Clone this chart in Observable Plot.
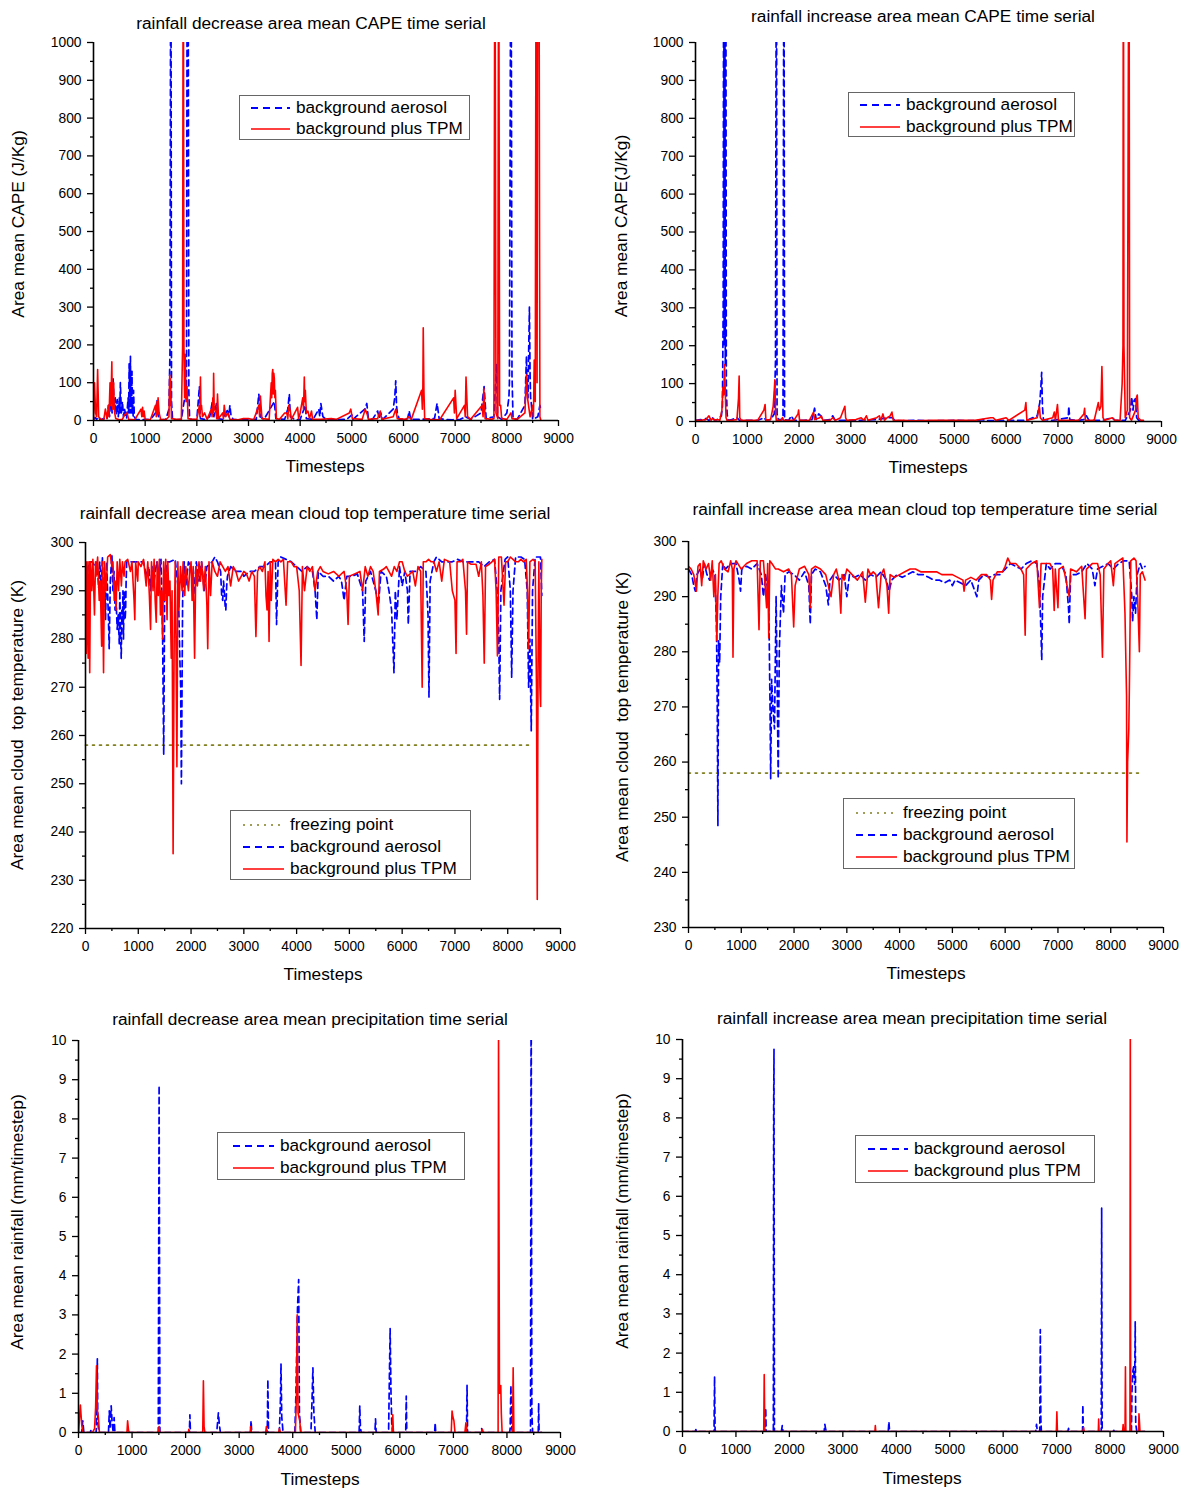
<!DOCTYPE html>
<html><head><meta charset="utf-8">
<script src="https://cdn.jsdelivr.net/npm/d3@7"></script>
<script src="https://cdn.jsdelivr.net/npm/@observablehq/plot@0.6"></script>
<style>
body{margin:0;background:#fff;font-family:"Liberation Sans",Arial,sans-serif;}
#root{position:relative;width:1181px;height:1490px;overflow:hidden;background:#fff;}
.t{position:absolute;white-space:pre;color:#000;line-height:1;}
.legend{position:absolute;border:1px solid #666;background:#fff;box-sizing:border-box;}
svg{overflow:visible;}
</style></head><body><div id="root"></div><script>
// ---------- DATA ----------
const xTicks = [0,1000,2000,3000,4000,5000,6000,7000,8000,9000];
const capeTicks = [0,100,200,300,400,500,600,700,800,900,1000];
const cttDecTicks = [220,230,240,250,260,270,280,290,300];
const cttIncTicks = [230,240,250,260,270,280,290,300];
const rainTicks = [0,1,2,3,4,5,6,7,8,9,10];
const freezingPoint = 258;
const seriesNames = ["freezing point","background aerosol","background plus TPM"];

const capeDecAerosol = [[0,2],[30,8],[60,3],[100,10],[130,2],[200,5],[260,3],[290,40],[310,10],[340,70],[360,20],[380,110],[400,30],[420,60],[440,15],[460,55],[480,10],[500,60],[510,20],[520,100],[540,20],[560,50],[580,10],[600,30],[640,5],[670,60],[680,20],[690,150],[700,80],[708,20],[715,170],[722,40],[730,60],[738,20],[745,130],[752,30],[760,40],[768,10],[775,80],[790,10],[820,3],[900,2],[1000,3],[1100,2],[1200,20],[1230,55],[1260,5],[1300,2],[1400,3],[1460,30],[1480,180],[1497,1500],[1510,50],[1530,3],[1600,2],[1700,3],[1800,90],[1815,1500],[1830,1500],[1845,80],[1860,5],[1900,3],[2000,2],[2050,90],[2070,5],[2150,3],[2250,10],[2300,50],[2330,10],[2380,45],[2400,5],[2500,3],[2600,30],[2620,10],[2640,40],[2660,15],[2680,10],[2700,3],[2800,2],[3000,2],[3150,3],[3200,70],[3230,10],[3300,3],[3500,50],[3530,5],[3700,3],[3760,30],[3790,70],[3810,10],[3900,2],[4000,3],[4100,40],[4120,5],[4250,3],[4360,30],[4380,10],[4400,45],[4440,10],[4500,3],[4700,2],[4900,3],[5000,15],[5020,3],[5250,30],[5290,45],[5320,5],[5400,3],[5500,25],[5530,5],[5560,20],[5600,3],[5800,30],[5830,60],[5850,105],[5865,40],[5880,20],[5920,3],[6080,5],[6110,25],[6140,3],[6300,3],[6600,5],[6650,45],[6690,5],[6800,3],[6950,2],[7100,3],[7200,10],[7300,3],[7500,20],[7560,90],[7600,5],[7750,10],[7800,150],[7820,10],[7900,3],[8000,20],[8040,60],[8050,100],[8080,1500],[8100,120],[8120,5],[8200,3],[8350,40],[8380,170],[8390,80],[8400,100],[8410,60],[8420,160],[8437,300],[8450,120],[8460,60],[8470,50],[8500,3],[8600,10],[8640,40],[8660,30]];
const capeDecTPM = [[0,0],[20,100],[40,20],[60,10],[80,135],[100,10],[150,2],[200,3],[230,30],[260,5],[290,40],[300,10],[320,100],[330,40],[340,60],[355,155],[362,60],[370,30],[380,80],[390,100],[400,40],[410,20],[430,5],[500,2],[560,3],[600,15],[650,20],[680,3],[800,2],[920,30],[935,10],[950,35],[965,10],[980,25],[1000,3],[1100,2],[1200,40],[1215,10],[1230,50],[1240,15],[1250,60],[1270,20],[1300,3],[1400,2],[1460,10],[1475,120],[1482,40],[1490,110],[1510,5],[1600,3],[1700,3],[1725,200],[1737,1500],[1750,200],[1765,60],[1775,175],[1790,50],[1810,90],[1830,5],[1900,3],[2000,3],[2050,40],[2060,10],[2070,115],[2080,30],[2090,40],[2110,10],[2150,20],[2200,3],[2280,30],[2295,10],[2310,60],[2318,20],[2325,125],[2335,40],[2345,30],[2370,20],[2385,5],[2400,70],[2420,5],[2500,20],[2515,5],[2530,40],[2560,10],[2600,20],[2640,3],[2800,2],[2900,5],[3000,5],[3100,2],[3200,40],[3215,10],[3230,65],[3260,5],[3400,3],[3440,100],[3450,60],[3460,125],[3470,135],[3480,70],[3490,125],[3500,110],[3510,60],[3520,80],[3540,5],[3600,3],[3700,20],[3740,20],[3760,5],[3780,40],[3810,25],[3830,3],[3950,35],[3970,5],[4000,20],[4050,60],[4065,30],[4080,115],[4090,50],[4100,80],[4120,20],[4150,25],[4180,5],[4220,25],[4240,3],[4400,3],[4600,5],[4700,3],[4950,20],[4980,30],[5010,5],[5200,3],[5260,30],[5300,15],[5320,3],[5500,5],[5550,25],[5580,3],[5800,10],[5850,30],[5880,5],[6050,3],[6100,10],[6150,3],[6350,80],[6365,30],[6375,90],[6382,245],[6395,80],[6410,5],[6500,3],[6700,2],[6970,60],[6985,20],[7000,80],[7030,5],[7180,40],[7195,10],[7210,115],[7240,10],[7300,3],[7520,40],[7540,10],[7555,85],[7580,5],[7700,3],[7750,5],[7769,1500],[7790,20],[7825,5],[7842,1500],[7860,40],[7880,40],[7900,5],[8000,3],[8080,20],[8100,5],[8200,3],[8350,20],[8380,120],[8400,60],[8450,10],[8500,40],[8515,10],[8530,160],[8550,50],[8568,1500],[8585,100],[8600,1500],[8620,1500],[8640,10],[8660,0]];

const capeIncAerosol = [[0,3],[100,5],[160,2],[200,8],[260,3],[330,10],[370,3],[420,5],[460,10],[500,15],[520,40],[535,300],[545,1500],[555,200],[565,1500],[575,150],[585,1500],[595,100],[610,20],[630,3],[700,5],[800,10],[850,3],[1000,3],[1200,3],[1330,10],[1360,3],[1450,5],[1520,20],[1545,160],[1563,1500],[1575,20],[1600,5],[1690,5],[1708,1500],[1720,5],[1800,3],[1850,15],[1900,3],[2100,3],[2250,5],[2300,35],[2330,5],[2380,20],[2420,15],[2460,3],[2600,5],[2650,15],[2700,3],[2900,3],[3100,3],[3500,5],[3700,10],[3800,10],[3850,3],[4000,2],[4200,3],[4600,2],[5000,3],[5400,2],[5550,5],[5600,2],[6000,3],[6400,3],[6600,15],[6650,50],[6670,90],[6686,130],[6700,40],[6720,5],[6900,3],[7200,10],[7209,40],[7230,5],[7400,3],[7500,5],[7550,15],[7600,3],[7850,3],[8050,10],[8100,3],[8300,3],[8400,30],[8423,65],[8450,30],[8470,55],[8495,60],[8520,10],[8560,3],[8650,2]];
const capeIncTPM = [[0,3],[100,3],[200,5],[260,15],[300,3],[330,8],[380,3],[420,5],[470,3],[510,30],[530,90],[545,70],[560,150],[575,80],[590,10],[610,3],[700,3],[800,5],[830,60],[843,120],[855,10],[880,3],[1000,3],[1200,3],[1320,30],[1344,45],[1360,3],[1450,5],[1500,40],[1520,80],[1533,110],[1545,30],[1560,3],[1650,3],[1680,10],[1700,3],[1900,3],[1980,20],[1991,30],[2010,3],[2200,3],[2280,25],[2300,5],[2400,10],[2430,15],[2460,3],[2600,3],[2650,10],[2700,3],[2800,10],[2870,35],[2885,40],[2900,10],[2920,3],[3100,5],[3200,10],[3250,3],[3300,15],[3330,3],[3500,10],[3550,15],[3580,3],[3620,20],[3650,3],[3700,10],[3760,15],[3794,25],[3820,3],[4000,3],[4200,2],[4600,3],[5000,3],[5400,3],[5700,10],[5750,10],[5800,3],[6000,10],[6050,3],[6360,30],[6381,50],[6400,3],[6600,10],[6640,40],[6660,10],[6700,3],[6900,10],[6930,25],[6950,3],[6991,45],[7010,3],[7200,3],[7400,3],[7500,20],[7515,35],[7530,3],[7700,3],[7780,50],[7800,30],[7830,40],[7849,145],[7870,10],[7900,3],[8050,10],[8100,3],[8200,3],[8240,100],[8256,200],[8263,1500],[8275,200],[8300,10],[8340,30],[8372,1500],[8385,10],[8420,3],[8500,30],[8520,65],[8532,70],[8550,10],[8600,3],[8650,3]];

const cttDecAerosol = [[0,296],[40,294],[80,296],[130,296],[180,295],[220,296],[250,290.5],[270,296],[300,290],[320,297],[340,286],[360,292],[380,284],[400,296],[430,286],[449,278],[470,292],[500,297.5],[520,290],[540,294],[560,286],[580,288],[600,282],[620,285],[640,279],[650,290],[665,281],[677,276],[690,286],[700,283],[710,290],[720,280],[730,288],[740,290],[750,284],[760,286],[770,292],[780,296],[820,296],[900,296],[1000,296],[1100,296],[1150,293],[1200,295],[1233,290],[1260,295],[1300,292],[1350,296],[1400,293],[1430,296.5],[1460,282],[1482,256],[1500,290],[1550,296],[1600,296],[1700,296.5],[1760,290],[1790,275],[1803,270],[1817,250],[1840,288],[1870,296],[1900,291],[1950,296],[2000,295],[2050,289],[2100,296],[2150,292],[2200,296],[2250,290],[2300,295],[2400,296],[2450,297],[2500,296],[2560,294],[2580,289],[2600,288],[2615,292],[2630,290],[2645,287],[2659,286],[2675,291],[2690,293],[2750,295],[2850,294],[2950,294],[3000,293],[3100,294],[3200,294],[3300,295],[3400,295],[3500,296],[3600,296],[3620,283],[3650,296],[3700,297],[3800,296.5],[3900,296],[4000,295],[4100,294],[4200,295],[4300,294],[4350,290],[4383,284],[4410,294],[4500,293],[4600,293],[4700,292],[4800,293],[4850,292],[4900,288],[4950,293],[5050,293],[5150,293.5],[5250,290],[5281,279.5],[5310,292],[5400,294],[5500,290],[5550,287],[5600,294],[5700,293],[5750,290],[5800,286],[5820,280],[5845,273],[5870,290],[5900,284],[5950,295],[6000,291],[6050,294],[6100,290],[6116,283],[6150,294],[6250,294],[6350,295],[6450,294],[6490,285],[6508,268],[6530,292],[6600,296],[6650,297],[6750,296],[6850,296],[6950,296],[7050,296.5],[7150,296],[7250,296],[7350,296],[7450,296],[7550,295],[7650,296],[7750,296.5],[7800,290],[7830,280],[7847,267.5],[7870,290],[7950,296.5],[8000,297],[8050,290],[8075,272],[8100,290],[8150,297],[8250,297],[8320,296.5],[8370,290],[8396,270],[8420,280],[8446,261],[8470,290],[8520,297],[8580,297],[8620,297],[8646,289]];
const cttDecTPM = [[0,296],[15,277],[30,296],[50,276],[65,296],[80,273],[95,296],[120,290],[140,296.5],[170,285],[190,296],[200,293],[230,297],[260,288],[280,292],[306,278.5],[320,296],[342,273],[360,296],[390,290],[420,297],[470,297.5],[500,295],[520,296],[545,288],[560,292],[580,286],[600,296],[627,290],[650,296.5],[680,291],[700,296],[730,293],[750,296],[800,296.5],[850,294],[880,296],[920,288],[934,284],[950,296],[990,292],[1000,296],[1050,295],[1100,296.5],[1150,291],[1180,296],[1210,289],[1233,282],[1250,296],[1280,290],[1300,296.5],[1320,288],[1340,283.5],[1360,296],[1380,289],[1400,296.5],[1420,285],[1440,290],[1461,280],[1480,296],[1500,288],[1520,296.5],[1545,284],[1560,296],[1580,289],[1600,292],[1625,276],[1640,290],[1660,235.5],[1680,280],[1700,296],[1715,278],[1732,253.5],[1750,296],[1770,286],[1800,295],[1830,290],[1850,296],[1880,289],[1900,295],[1950,290],[1980,295],[2000,296],[2020,288],[2040,295],[2067,276],[2090,295],[2120,291],[2150,296],[2180,292],[2200,296],[2240,290],[2270,295],[2300,287],[2316,278],[2340,296],[2370,289],[2400,296],[2450,294],[2500,293],[2550,296],[2600,295],[2650,294],[2700,295],[2750,291],[2800,295],[2850,294],[2900,292],[2950,293],[3000,294],[3050,293.5],[3100,292],[3150,294],[3200,293],[3229,280.5],[3260,294],[3300,295],[3350,294],[3400,296],[3420,289],[3440,286],[3460,294],[3478,279.5],[3500,296],[3520,288],[3550,296.5],[3600,296],[3650,296.5],[3700,296],[3750,296.5],[3800,287],[3830,296],[3900,296],[3950,295],[4000,295],[4050,290],[4084,274.5],[4110,295],[4150,290],[4200,295],[4250,294],[4300,295],[4350,290],[4400,294],[4450,295],[4500,294],[4600,293.5],[4700,294],[4800,293],[4900,294],[4950,290],[4975,283],[5000,293],[5100,293.5],[5200,294],[5250,290],[5300,295],[5350,293],[5400,295],[5450,294],[5500,290],[5545,285],[5570,294],[5650,294.5],[5700,295],[5750,294],[5800,293],[5850,295],[5900,294],[5950,296],[6000,296],[6050,294],[6100,293],[6200,294],[6250,291],[6300,295],[6350,294],[6379,270],[6400,296],[6450,296],[6500,296.5],[6550,296],[6600,296],[6650,294],[6700,296],[6750,292],[6800,296.5],[6900,296],[6950,290],[7000,288],[7021,277],[7040,296],[7100,296],[7150,296.5],[7200,290],[7220,281],[7240,296],[7300,295.5],[7400,295.5],[7450,293],[7500,296],[7530,289],[7555,275],[7580,295],[7650,295.5],[7700,296],[7750,296.5],[7780,290],[7805,276.5],[7830,297],[7880,297],[7930,287],[7960,296],[8000,296],[8050,297],[8100,296.5],[8150,296],[8200,296],[8250,296.5],[8300,296],[8350,296.5],[8375,290],[8396,278],[8420,296],[8480,296.5],[8520,296],[8545,270],[8560,226],[8575,275],[8590,296],[8610,270],[8624,266],[8635,290],[8646,296.5]];

const cttIncAerosol = [[0,295],[60,294],[100,292],[129,291],[160,294],[220,295],[260,293],[300,296],[350,294],[400,293],[450,295],[500,294],[530,285],[545,270],[557,248.5],[570,282],[590,278],[610,290],[650,296],[700,295],[800,296],[900,296],[960,293],[986,291],[1010,295],[1100,295.5],[1200,295],[1300,296],[1380,294],[1420,290],[1460,294],[1520,290],[1545,270],[1557,257],[1575,275],[1600,270],[1629,266],[1660,290],[1685,270],[1700,257],[1720,280],[1760,292],[1800,287],[1830,294],[1900,294.5],[2000,294],[2100,293],[2200,294.5],[2280,292],[2307,285],[2330,294],[2400,295],[2500,294.5],[2600,292],[2650,288.5],[2680,293],[2750,294],[2850,293],[2950,294],[3000,290],[3050,294],[3150,293.5],[3250,294],[3350,293],[3450,294],[3550,293.5],[3650,294.5],[3750,293],[3800,291],[3850,293],[3950,294],[4050,293.5],[4150,294],[4250,294.5],[4350,294],[4450,294],[4550,293.5],[4650,293],[4750,293],[4850,292.5],[4950,293],[5000,292],[5050,293],[5150,292.5],[5250,292],[5350,293],[5464,290],[5500,293],[5600,294],[5700,293.5],[5800,294],[5900,294],[6000,295],[6100,296],[6200,295.5],[6300,295],[6400,296],[6500,296.5],[6600,296],[6650,292],[6680,283],[6693,278.5],[6710,290],[6780,296],[6850,295],[6950,296],[7050,296],[7150,294],[7200,288],[7214,285],[7240,294],[7350,294],[7450,294.5],[7550,296],[7650,295],[7700,292],[7750,295],[7850,295.5],[7950,296],[8050,295],[8150,296],[8250,296.5],[8350,296.5],[8400,290],[8414,285.5],[8440,290],[8470,287],[8500,294],[8560,296],[8600,295],[8650,295.5]];
const cttIncTPM = [[0,295.5],[50,295],[100,294],[150,291],[180,295.5],[220,296],[250,292],[280,296.5],[330,295],[380,296],[420,293],[450,296.5],[480,290],[510,294],[537,282],[555,290],[580,296],[620,296.5],[680,295],[750,294.5],[800,296.5],[830,295],[843,279],[860,295],[900,296.5],[1000,295],[1100,296],[1200,296.5],[1300,296.5],[1336,284],[1360,296.5],[1420,296.5],[1480,288],[1500,296],[1521,282.5],[1540,296.5],[1580,296],[1650,295],[1700,295],[1800,294.5],[1900,295],[1950,294],[1993,284.5],[2020,292],[2100,295],[2200,295.5],[2280,294],[2307,288],[2330,295],[2400,295.5],[2500,295],[2600,294],[2650,292],[2700,290],[2750,294],[2800,295],[2850,293],[2886,287],[2910,294],[2950,293],[3000,295],[3100,294],[3200,293],[3300,294.5],[3350,289],[3400,295],[3450,294],[3500,294.5],[3550,294],[3600,288],[3650,294],[3700,295],[3760,292],[3793,287],[3820,294],[3900,293.5],[4000,294],[4100,294.5],[4200,295],[4300,295],[4400,294.5],[4500,294.5],[4600,294.5],[4700,294.5],[4800,294],[4900,294],[5000,294],[5100,293.5],[5200,293],[5221,291],[5250,293],[5350,293.5],[5450,293],[5550,294],[5650,294],[5720,293],[5743,289.5],[5770,293],[5850,294.5],[5950,294.5],[6000,295.5],[6050,297],[6100,296],[6200,296],[6300,295],[6350,294],[6379,283],[6400,295],[6500,296],[6600,296.5],[6650,288],[6680,296],[6750,296],[6850,296],[6900,295],[6929,287.5],[6950,295],[7000,288],[7020,295],[7100,295.5],[7214,290],[7240,295],[7350,294.5],[7450,295.5],[7514,286],[7540,295],[7650,296],[7750,296],[7800,294],[7843,279],[7870,295],[7950,296],[8000,296.5],[8050,292],[8080,296],[8150,296.5],[8230,297],[8270,287],[8300,272],[8307,245.5],[8320,260],[8343,266],[8357,276],[8380,296.5],[8440,297],[8480,296.5],[8510,290],[8543,280],[8560,294],[8600,294.5],[8650,293]];

const rainDecAerosol = [[0,0],[60,0],[80,0.3],[100,0],[220,0],[230,0.05],[240,0],[330,0],[345,1.2],[352,1.88],[360,0.3],[380,0],[560,0],[575,0.55],[590,0.1],[610,0.68],[630,0.2],[650,0],[665,0.38],[680,0],[1490,0],[1505,8.85],[1520,0],[2070,0],[2080,0.45],[2090,0],[2580,0],[2600,0.3],[2612,0.5],[2630,0.2],[2650,0],[3210,0],[3222,0.3],[3235,0],[3525,0],[3536,1.35],[3548,0],[3750,0],[3770,0.8],[3781,1.75],[3795,0.4],[3820,0],[4040,0],[4060,1.0],[4090,3.2],[4111,3.9],[4125,0.5],[4150,0],[4340,0],[4360,0.8],[4377,1.65],[4395,0.5],[4420,0],[5240,0],[5252,0.68],[5265,0.1],[5280,0],[5535,0],[5546,0.35],[5558,0],[5790,0],[5805,1.4],[5819,2.65],[5835,1.0],[5850,0.2],[5870,0],[6110,0],[6120,0.93],[6130,0],[6650,0],[6660,0.25],[6670,0],[7245,0],[7255,1.2],[7265,0],[7520,0],[7528,0.1],[7540,0],[8050,0],[8060,0.1],[8074,1.2],[8090,0.1],[8110,0],[8440,0],[8452,12],[8465,0.5],[8480,0],[8585,0],[8592,0.75],[8600,0],[8650,0]];
const rainDecTPM = [[0,0],[20,0.4],[35,0.7],[60,0.2],[80,0],[260,0],[300,0.1],[320,0.65],[336,1.7],[350,0.6],[370,0.4],[390,0],[905,0],[917,0.3],[935,0.05],[950,0],[1495,0],[1505,0.15],[1515,0],[2050,0],[2060,0.08],[2075,0],[2320,0],[2332,1.32],[2345,0.15],[2360,0],[3205,0],[3215,0.15],[3230,0],[3495,0],[3508,0.15],[3520,0],[3740,0],[3750,0.1],[3770,0],[4050,0],[4070,1.0],[4083,3.0],[4100,0.5],[4131,0.3],[4150,0],[5855,0],[5868,0.45],[5880,0],[6960,0],[6975,0.55],[6990,0.4],[7010,0.3],[7030,0],[7215,0],[7234,0.25],[7250,0],[7525,0],[7540,0.08],[7560,0],[7835,0],[7843,10.5],[7860,1.0],[7885,1.2],[7895,0.5],[7910,0],[8105,0],[8116,1.65],[8130,0],[8650,0]];

const rainIncAerosol = [[0,0],[240,0],[250,0.05],[260,0],[590,0],[600,1.4],[610,0],[1550,0],[1557,0.6],[1565,0],[1700,0],[1706,8.3],[1712,9.75],[1720,0],[1850,0],[1867,0.15],[1880,0],[2650,0],[2664,0.18],[2680,0.05],[2700,0],[3850,0],[3862,0.25],[3875,0],[6610,0],[6624,0.18],[6640,0],[6685,0],[6695,2.6],[6705,0.3],[6715,0],[7210,0],[7223,0.08],[7240,0],[7485,0],[7491,0.68],[7500,0],[7835,0],[7843,5.7],[7852,0],[8060,0],[8070,0.03],[8080,0],[8400,0],[8410,1.0],[8421,1.5],[8440,1.65],[8460,1.2],[8471,2.8],[8480,0.2],[8500,0],[8650,0]];
const rainIncTPM = [[0,0],[1520,0],[1529,1.45],[1540,0],[3600,0],[3608,0.15],[3616,0],[6995,0],[7005,0.5],[7015,0],[7495,0],[7505,0.1],[7515,0],[7780,0],[7787,0.32],[7795,0],[8235,0],[8245,0.18],[8255,0],[8280,0],[8288,1.65],[8296,0],[8372,0],[8379,10.5],[8386,0],[8533,0],[8541,0.45],[8550,0.25],[8560,0],[8650,0]];

const freezeDecSpan = [0, 8450];
const freezeIncSpan = [0, 8620];

// ---------- LAYOUT ----------
const FONT = '"Liberation Sans", Arial, Helvetica, sans-serif';
const root = document.getElementById("root");
const BLUE = "#0000ff", RED = "#ff0000", OLIVE = "#7f7f1f";

const panels = [
  {x0:93,x1:558,yt:42,yb:420,dom:[0,1000],ticks:capeTicks,minor:50,blue:capeDecAerosol,red:capeDecTPM,
   title:"rainfall decrease area mean CAPE time serial",tpos:[311,24],
   ylab:"Area mean CAPE (J/Kg)",ypos:[19,224],xpos:[325,467],
   leg:{x:239,y:95,w:231,h:45,lx:251,tx:296,rows:[108,129]}},
  {x0:695,x1:1161,yt:42,yb:421,dom:[0,1000],ticks:capeTicks,minor:50,blue:capeIncAerosol,red:capeIncTPM,
   title:"rainfall increase area mean CAPE time serial",tpos:[923,17],
   ylab:"Area mean CAPE(J/Kg)",ypos:[622,226],xpos:[928,468],
   leg:{x:848,y:92,w:227,h:45,lx:860,tx:906,rows:[105,127]}},
  {x0:85,x1:560,yt:542,yb:928,dom:[220,300],ticks:cttDecTicks,minor:5,blue:cttDecAerosol,red:cttDecTPM,freeze:freezeDecSpan,
   title:"rainfall decrease area mean cloud top temperature time serial",tpos:[315,514],
   ylab:"Area mean cloud  top temperature (K)",ypos:[18,725],xpos:[323,975],
   leg:{x:230,y:810,w:241,h:70,lx:243,tx:290,rows:[825,847,869]}},
  {x0:688,x1:1163,yt:541,yb:927,dom:[230,300],ticks:cttIncTicks,minor:5,blue:cttIncAerosol,red:cttIncTPM,freeze:freezeIncSpan,
   title:"rainfall increase area mean cloud top temperature time serial",tpos:[925,510],
   ylab:"Area mean cloud  top temperature (K)",ypos:[623,717],xpos:[926,974],
   leg:{x:843,y:798,w:232,h:71,lx:856,tx:903,rows:[813,835,857]}},
  {x0:78,x1:560,yt:1040,yb:1432,dom:[0,10],ticks:rainTicks,minor:0.5,blue:rainDecAerosol,red:rainDecTPM,
   title:"rainfall decrease area mean precipitation time serial",tpos:[310,1020],
   ylab:"Area mean rainfall (mm/timestep)",ypos:[18,1222],xpos:[320,1480],
   leg:{x:217,y:1132,w:248,h:48,lx:233,tx:280,rows:[1146,1168]}},
  {x0:682,x1:1163,yt:1039,yb:1431,dom:[0,10],ticks:rainTicks,minor:0.5,blue:rainIncAerosol,red:rainIncTPM,
   title:"rainfall increase area mean precipitation time serial",tpos:[912,1019],
   ylab:"Area mean rainfall (mm/timestep)",ypos:[623,1221],xpos:[922,1479],
   leg:{x:855,y:1135,w:240,h:48,lx:868,tx:914,rows:[1149,1171]}}
];

function addText(txt, cx, cy, size, rotate){
  const d = document.createElement("div");
  d.className = "t";
  d.textContent = txt;
  d.style.fontFamily = FONT;
  d.style.fontSize = size + "px";
  d.style.left = cx + "px";
  d.style.top = cy + "px";
  d.style.transform = "translate(-50%,-50%)" + (rotate ? " rotate(-90deg)" : "");
  root.appendChild(d);
}

function addLegend(p){
  const L = p.leg;
  const box = document.createElement("div");
  box.className = "legend";
  box.style.left = L.x + "px"; box.style.top = L.y + "px";
  box.style.width = L.w + "px"; box.style.height = L.h + "px";
  root.appendChild(box);
  const ns = "http://www.w3.org/2000/svg";
  const svg = document.createElementNS(ns, "svg");
  svg.setAttribute("width", L.w); svg.setAttribute("height", L.h);
  svg.style.position = "absolute"; svg.style.left = (L.x) + "px"; svg.style.top = (L.y) + "px";
  root.appendChild(svg);
  const styles = [];
  if (p.freeze) styles.push({name:seriesNames[0], stroke:OLIVE, dash:"2,5", w:1.6});
  styles.push({name:seriesNames[1], stroke:BLUE, dash:"7,5", w:1.8});
  styles.push({name:seriesNames[2], stroke:RED, dash:null, w:1.6});
  styles.forEach((s,i)=>{
    const ry = L.rows[i] - L.y;
    const ln = document.createElementNS(ns, "line");
    ln.setAttribute("x1", L.lx - L.x); ln.setAttribute("x2", L.tx - L.x - 6);
    ln.setAttribute("y1", ry); ln.setAttribute("y2", ry);
    ln.setAttribute("stroke", s.stroke); ln.setAttribute("stroke-width", s.w);
    if (s.dash) ln.setAttribute("stroke-dasharray", s.dash);
    svg.appendChild(ln);
    const t = document.createElement("div");
    t.className = "t"; t.textContent = s.name;
    t.style.fontFamily = FONT; t.style.fontSize = "17.2px";
    t.style.left = L.tx + "px"; t.style.top = L.rows[i] + "px";
    t.style.transform = "translate(0,-50%)";
    root.appendChild(t);
  });
}

panels.forEach(p => {
  const ml = 60, mr = 25, mt = 12, mb = 34;
  const W = p.x1 - p.x0 + ml + mr, H = p.yb - p.yt + mt + mb;
  const minors = d3.range(p.dom[0] + p.minor, p.dom[1], p.minor * 2);
  const xMinor = d3.range(500, 9000, 1000);
  const marks = [
    Plot.axisX(xTicks, {tickSize:6, tickPadding:7, tickFormat:d=>String(d), label:null, fontSize:13.8, strokeWidth:1.3}),
    Plot.axisX(xMinor, {tickSize:3, tickFormat:()=>"", label:null, strokeWidth:1.3}),
    Plot.axisY(p.ticks, {tickSize:6, tickPadding:6, tickFormat:d=>String(d), label:null, fontSize:13.8, strokeWidth:1.3}),
    Plot.axisY(minors, {tickSize:3, tickFormat:()=>"", label:null, strokeWidth:1.3})
  ];
  if (p.freeze) {
    marks.push(Plot.lineY(p.freeze.map(t => [t, freezingPoint]), {x:d=>d[0], y:d=>d[1], stroke:OLIVE, strokeWidth:1.6, strokeDasharray:"2,5"}));
  }
  marks.push(Plot.line(p.blue, {x:d=>d[0], y:d=>d[1], stroke:BLUE, strokeWidth:1.7, strokeDasharray:"6,4", clip:true}));
  marks.push(Plot.line(p.red, {x:d=>d[0], y:d=>d[1], stroke:RED, strokeWidth:1.6, clip:true}));
  marks.push(Plot.ruleX([0], {stroke:"#000", strokeWidth:1.6}));
  marks.push(Plot.ruleY([p.dom[0]], {stroke:"#000", strokeWidth:1.6}));
  const chart = Plot.plot({
    width: W, height: H, marginLeft: ml, marginRight: mr, marginTop: mt, marginBottom: mb,
    x: {domain:[0,9000]}, y: {domain:p.dom},
    style: {fontFamily: FONT, fontSize: "13.8px", color: "#000", background: "transparent", overflow: "visible"},
    marks
  });
  chart.style.position = "absolute";
  chart.style.left = (p.x0 - ml) + "px";
  chart.style.top = (p.yt - mt) + "px";
  root.appendChild(chart);
  addText(p.title, p.tpos[0], p.tpos[1], 17.3, false);
  addText("Timesteps", p.xpos[0], p.xpos[1], 17.3, false);
  addText(p.ylab, p.ypos[0], p.ypos[1], 17.3, true);
  addLegend(p);
});
</script></body></html>
